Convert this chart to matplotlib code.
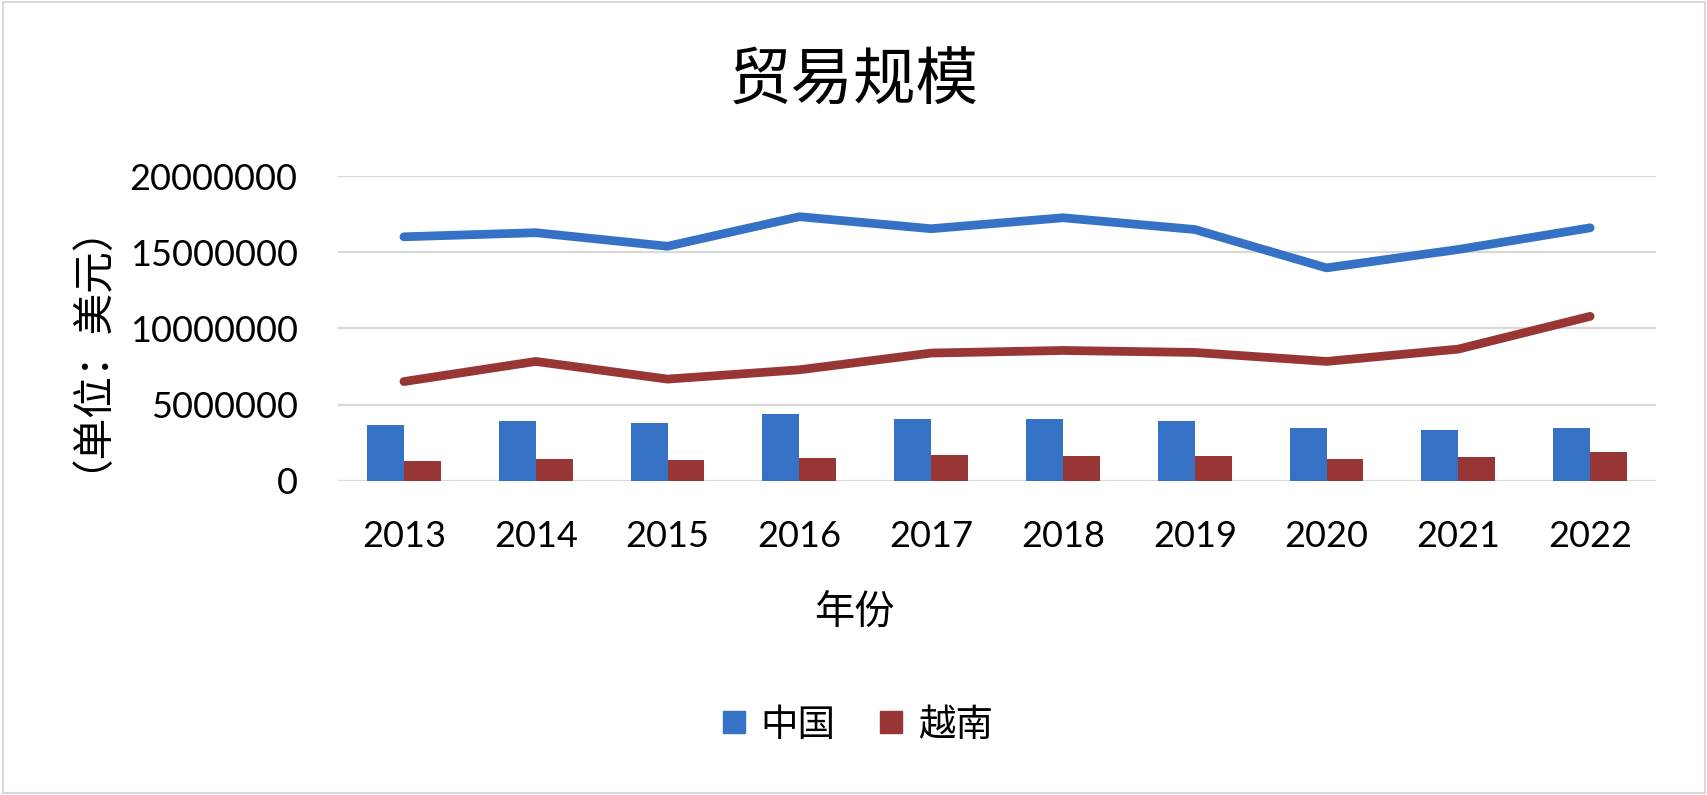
import numpy as np
import matplotlib.pyplot as plt
from matplotlib.lines import Line2D
from matplotlib.patches import Rectangle

plt.rcParams['font.family'] = ['Lato', 'Noto Sans CJK SC', 'DejaVu Sans']

years = ['2013', '2014', '2015', '2016', '2017', '2018', '2019', '2020', '2021', '2022']
china_bar = [3640000, 3910000, 3820000, 4370000, 4040000, 4040000, 3910000, 3450000, 3320000, 3450000]
vietnam_bar = [1300000, 1410000, 1340000, 1470000, 1690000, 1630000, 1630000, 1410000, 1560000, 1870000]
china_line = [16010000, 16280000, 15390000, 17330000, 16540000, 17260000, 16490000, 13970000, 15180000, 16600000]
vietnam_line = [6510000, 7830000, 6670000, 7280000, 8380000, 8550000, 8420000, 7830000, 8640000, 10790000]

blue = '#3572C6'
red = '#973634'
cjk = ['Noto Sans CJK SC', 'DejaVu Sans']

fig = plt.figure(figsize=(17.08, 7.95), dpi=100)
ax = fig.add_axes([0.1979, 0.3953, 0.7717, 0.3833])

x = np.arange(len(years))
w = 0.28
ax.bar(x - w / 2, china_bar, w, color=blue, zorder=2)
ax.bar(x + w / 2, vietnam_bar, w, color=red, zorder=2)
ax.plot(x, china_line, color=blue, lw=6.3, solid_capstyle='round', solid_joinstyle='round', zorder=3)
ax.plot(x, vietnam_line, color=red, lw=6.3, solid_capstyle='round', solid_joinstyle='round', zorder=3)

ax.set_xlim(-0.5, len(years) - 0.5)
ax.set_ylim(0, 20000000)
ax.set_yticks(range(0, 20000001, 5000000))
ax.set_yticklabels([str(v) for v in range(0, 20000001, 5000000)], fontsize=26)
ax.set_xticks(x)
ax.set_xticklabels(years, fontsize=26)
ax.tick_params(axis='both', length=0)
ax.tick_params(axis='x', pad=28.5)
ax.tick_params(axis='y', pad=29)
ax.grid(axis='y', color='#d9d9d9', lw=1.6, zorder=0)
ax.set_axisbelow(True)
for s in ax.spines.values():
    s.set_visible(False)

fig.text(0.5, 0.897, '贸易规模', ha='center', va='center', fontsize=45, family=cjk)
fig.text(0.5, 0.23, '年份', ha='center', va='center', fontsize=29, family=cjk)
fig.text(0.04, 0.59, '（单位：美元）', ha='center', va='center', rotation=90, fontsize=30, family=cjk)

handles = [Line2D([], [], ls='', marker='s', markersize=16.5, color=blue),
           Line2D([], [], ls='', marker='s', markersize=16.5, color=red)]
fig.legend(handles, ['中国', '越南'], loc='center', bbox_to_anchor=(0.5, 0.088), ncol=2,
           frameon=False, prop={'family': cjk, 'size': 27}, handletextpad=0.2, columnspacing=1.0,
           handlelength=1.0)

fig.patches.append(Rectangle((0.002, 0.003), 0.996, 0.994, transform=fig.transFigure,
                             fill=False, edgecolor='#d9d9d9', lw=1.5))

fig.savefig('out.png', dpi=100)
